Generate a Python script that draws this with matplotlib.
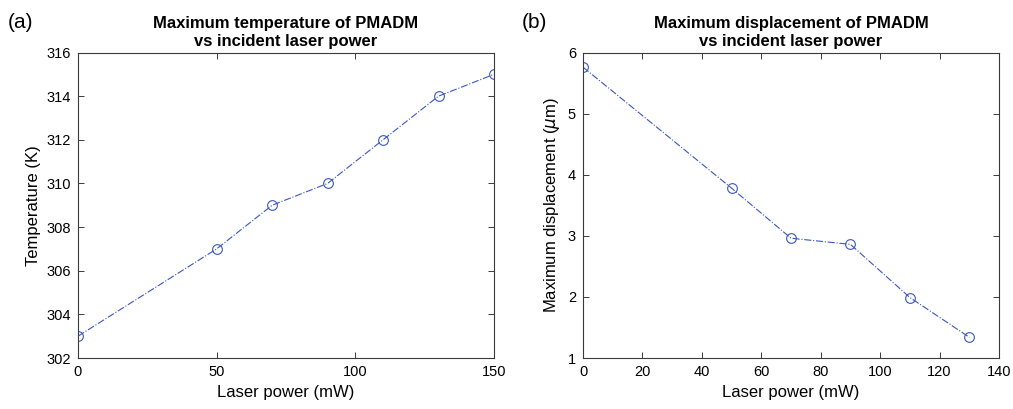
import matplotlib.pyplot as plt

plt.rcParams['font.family'] = ['Liberation Sans', 'DejaVu Sans']

# Data
power_a = [0, 50, 70, 90, 110, 130, 150]
temp_a = [303, 307, 309, 310, 312, 314, 315]

power_b = [0, 50, 70, 90, 110, 130]
disp_b = [5.76, 3.78, 2.96, 2.86, 1.99, 1.34]

blue = '#3a56c0'
frame = '#3a3a3a'

fig = plt.figure(figsize=(10.13, 4.09), dpi=100)
W, H = 1013, 409
ax1 = fig.add_axes([78 / W, 1 - 358 / H, (494 - 78) / W, (358 - 52.5) / H])
ax2 = fig.add_axes([583 / W, 1 - 358 / H, (999 - 583) / W, (358 - 52.5) / H])


def style(ax):
    ax.tick_params(direction='in', top=True, right=True, labelsize=10.5,
                   length=4, width=0.7, color=frame, pad=5)
    for s in ax.spines.values():
        s.set_color(frame)
        s.set_linewidth(0.8)


ax1.plot(power_a, temp_a, linestyle='-.', color=blue, linewidth=0.8,
         marker='o', markersize=7, markerfacecolor='none', markeredgewidth=0.8)
ax1.set_xlim(0, 150)
ax1.set_ylim(302, 316)
ax1.set_xticks([0, 50, 100, 150])
ax1.set_yticks(range(302, 317, 2))
ax1.set_xlabel('Laser power (mW)', fontsize=12)
ax1.set_ylabel('Temperature (K)', fontsize=12)
ax1.set_title('Maximum temperature of PMADM\nvs incident laser power',
              fontsize=12, fontweight='bold', pad=5, linespacing=1.25)
style(ax1)

ax2.plot(power_b, disp_b, linestyle='-.', color=blue, linewidth=0.8,
         marker='o', markersize=7, markerfacecolor='none', markeredgewidth=0.8)
ax2.set_xlim(0, 140)
ax2.set_ylim(1, 6)
ax2.set_xticks(range(0, 141, 20))
ax2.set_yticks(range(1, 7))
ax2.set_xlabel('Laser power (mW)', fontsize=12)
ax2.set_ylabel(r'Maximum displacement ($\mu$m)', fontsize=12)
ax2.set_title('Maximum displacement of PMADM\nvs incident laser power',
              fontsize=12, fontweight='bold', pad=5, linespacing=1.25)
style(ax2)

fig.text(8 / W, 1 - 22 / H, '(a)', fontsize=15, va='center', ha='left')
fig.text(522 / W, 1 - 22 / H, '(b)', fontsize=15, va='center', ha='left')

fig.savefig('out.png', dpi=100)
